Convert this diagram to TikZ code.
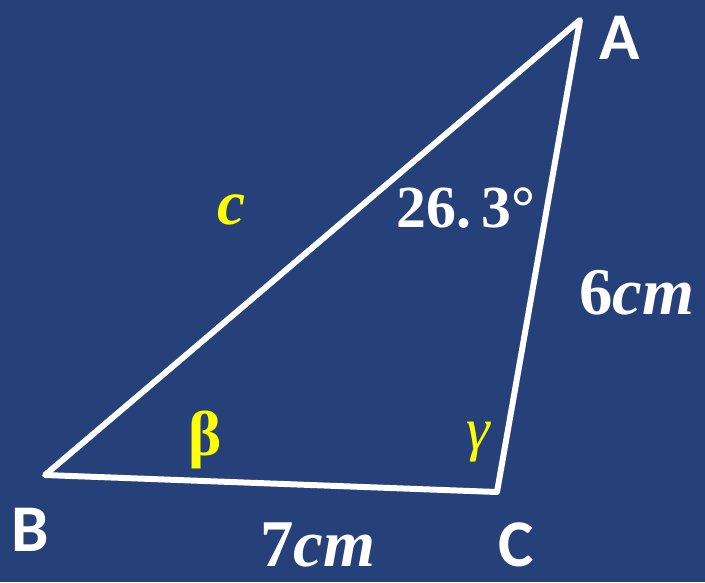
\documentclass[tikz,border=0pt]{standalone}
\usepackage{fontspec}
\setmainfont{Liberation Serif}
\setsansfont{Carlito}
\definecolor{trbg}{HTML}{26417A}
\definecolor{tryellow}{HTML}{FFFF00}

\begin{document}
\begin{tikzpicture}[x=0.02cm, y=-0.02cm,
    side/.style={draw=white, line width=3.4pt, line join=round},
    vertex/.style={text=white, font=\sffamily\bfseries\fontsize{38}{42}\selectfont},
    measure/.style={text=white, font=\bfseries\fontsize{34}{38}\selectfont},
    angname/.style={text=tryellow, font=\bfseries\fontsize{36}{40}\selectfont}]
  % background
  \fill[trbg] (0,0) rectangle (705,582);
  \useasboundingbox (0,0) rectangle (705,582);
  % corners
  \coordinate (pA) at (580,20);
  \coordinate (pB) at (45,475);
  \coordinate (pC) at (497,492);
  \draw[side] (pA) -- (pB) -- (pC) -- cycle;
  % vertex names
  \node[vertex] (A) at (620,38) {A};
  \node[vertex] (B) at (30,530) {B};
  \node[vertex] (C) at (516,545) {C};
  % sides and angles
  \node[angname] (c) at (232,210) {\itshape c};
  \node[measure] (angA) at (466,208) {26.\,3°};
  \node[measure, font=\bfseries\fontsize{38}{42}\selectfont] (a) at (637,293) {6\itshape cm};
  \node[measure, font=\bfseries\fontsize{38}{42}\selectfont] (b) at (318,545) {7\itshape cm};
  \node[angname] (beta) at (205,440) {β};
  \node[angname, font=\fontsize{34}{38}\selectfont] (gamma) at (478,442) {\itshape γ};
\end{tikzpicture}
\end{document}
